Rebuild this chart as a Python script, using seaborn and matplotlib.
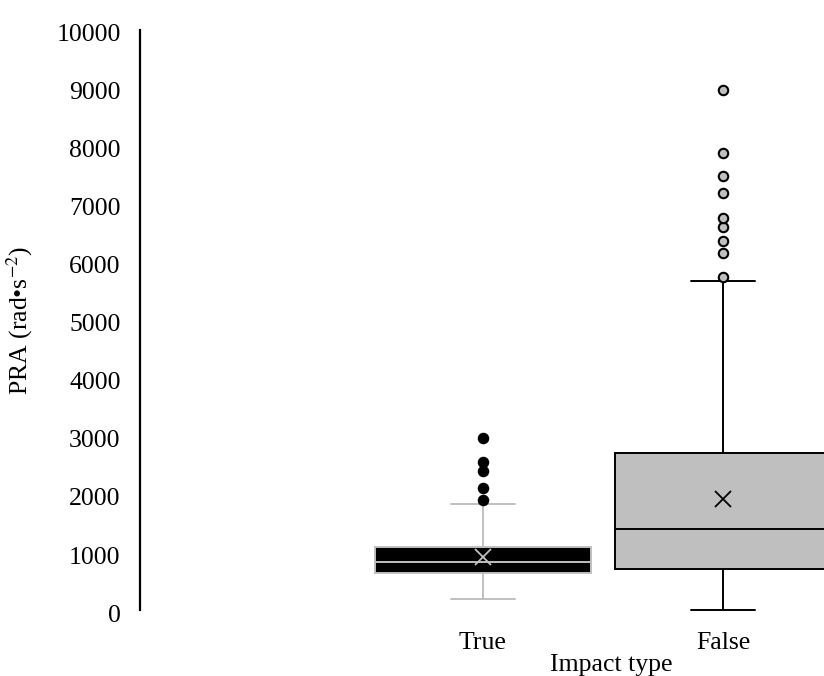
import matplotlib
matplotlib.use("Agg")
import matplotlib.pyplot as plt
import matplotlib.transforms as mtransforms
import seaborn as sns
import pandas as pd

# Impact categories and their summary statistics (PRA, rad·s^-2)
categories = ["True", "False"]
whisker_low = [190, 0]
q1 = [633, 702]
median = [833, 1391]
q3 = [1091, 2702]
whisker_high = [1822, 5678]
means = [919, 1909]

outliers_true = [1891, 2109, 2402, 2547, 2960]
outliers_false = [5747, 6150, 6362, 6609, 6753, 7195, 7483, 7884, 8966]

fill_colors = ["#000000", "#bfbfbf"]
line_colors = ["#c0c0c0", "#000000"]

sns.set_theme(style="white")
plt.rcParams["font.family"] = ["Liberation Serif", "DejaVu Serif"]
plt.rcParams["mathtext.fontset"] = "stix"

fig = plt.figure(figsize=(8.24, 6.76), dpi=100)
W, H = 824, 676
left, right, top, bottom = 140, 824, 30, 610
ax = fig.add_axes([left / W, 1 - bottom / H, (right - left) / W, (bottom - top) / H])

# Outlying points, one column per impact type
flier_df = pd.DataFrame({
    "Impact type": ["True"] * len(outliers_true) + ["False"] * len(outliers_false),
    "PRA": outliers_true + outliers_false,
})
for cat, fc in zip(categories, fill_colors):
    sns.stripplot(data=flier_df[flier_df["Impact type"] == cat], x="Impact type", y="PRA",
                  order=categories, jitter=False, color=fc, edgecolor="black",
                  linewidth=1.5, size=6.8, ax=ax, zorder=5, clip_on=False)

# Boxes, whiskers and mean markers from the summary statistics
for i, cat in enumerate(categories):
    stats = [{
        "whislo": whisker_low[i], "q1": q1[i], "med": median[i],
        "q3": q3[i], "whishi": whisker_high[i], "mean": means[i],
        "fliers": [], "label": cat,
    }]
    lc = line_colors[i]
    art = ax.bxp(stats, positions=[i], widths=0.9, capwidths=0.27,
                 patch_artist=True, showmeans=True, showfliers=False,
                 manage_ticks=False,
                 boxprops=dict(facecolor=fill_colors[i], edgecolor=lc, linewidth=1.4),
                 medianprops=dict(color=lc, linewidth=1.4),
                 whiskerprops=dict(color=lc, linewidth=1.4),
                 capprops=dict(color=lc, linewidth=1.4),
                 meanprops=dict(marker="x", markeredgecolor=lc, markerfacecolor=lc,
                                markersize=12, markeredgewidth=1.3))
    for key in art:
        for a in art[key]:
            a.set_clip_on(False)

ax.set_xlim(-1.429, 1.421)
ax.set_ylim(0, 10000)
ax.set_yticks(range(0, 10001, 1000))
ax.set_xticks([0, 1])
ax.set_xticklabels(categories)
ax.tick_params(axis="both", length=0, labelsize=18.5, colors="black")
ax.tick_params(axis="y", pad=14)
ax.tick_params(axis="x", pad=16)

# Value labels sit a few pixels below their gridline positions
shift = mtransforms.ScaledTranslation(0, -3 / 100, fig.dpi_scale_trans)
for lbl in ax.get_yticklabels():
    lbl.set_transform(lbl.get_transform() + shift)

sns.despine(ax=ax, left=False, bottom=True, top=True, right=True)
ax.spines["left"].set_color("black")
ax.spines["left"].set_linewidth(1.6)

ax.set_ylabel("PRA (rad•s$^{-2}$)", fontsize=18.5, color="black")
ax.yaxis.set_label_coords(-0.154, 0.5)
ax.set_xlabel("Impact type", fontsize=18.5, color="black")
ax.xaxis.set_label_coords(0.689, -0.076)
ax.xaxis.label.set_va("top")

fig.savefig("out.png", dpi=100)
